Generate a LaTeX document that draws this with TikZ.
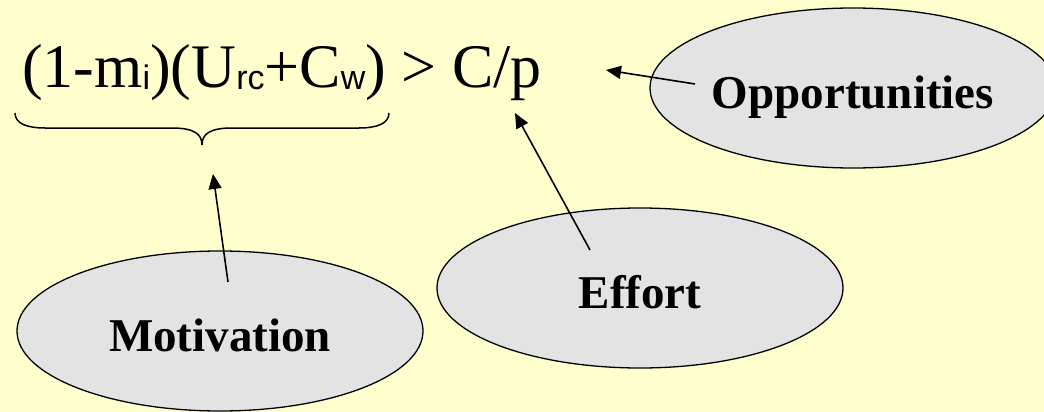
\documentclass[tikz,border=0pt]{standalone}
\usepackage{fontspec}
\setmainfont{Liberation Serif}
\newfontfamily\idxfont{Liberation Sans}
\usetikzlibrary{shapes.geometric, arrows.meta}

\definecolor{slidebg}{RGB}{255,255,206}
\definecolor{bubblegray}{RGB}{227,227,227}
\newcommand{\lowidx}[1]{\raisebox{-2pt}{\idxfont\fontsize{34}{38}\selectfont #1}}

\begin{document}
\begin{tikzpicture}[
    x=1pt, y=-1pt,
    bubble/.style={ellipse, draw, line width=1.3pt, fill=bubblegray,
                   minimum width=406pt, minimum height=160pt, inner sep=0pt,
                   text height=41pt, text depth=0pt,
                   font=\fontsize{47}{52}\selectfont\bfseries},
    ptr/.style={-{Triangle[length=15pt, width=13pt]}, line width=1.6pt},
    brace/.style={line width=1.5pt}
]

\useasboundingbox (0,0) rectangle (1044,412);
\fill[slidebg] (0,0) rectangle (1044,412);

\node[anchor=base west, inner sep=0pt, font=\fontsize{62}{70}\selectfont]
    (F) at (22,87) {(1-m\lowidx{i})(U\lowidx{rc}+C\lowidx{w}) > C/p};

\node[bubble] (M) at (220,331) {Motivation};
\node[bubble] (E) at (640,288) {Effort};
\node[bubble] (O) at (853,88)  {Opportunities};

% brace under the left-hand side
\draw[brace] (15,113) .. controls (15,124) and (28,128) .. (45,128)
    -- (172,128) .. controls (194,128) and (202,134) .. (202,145)
    .. controls (202,134) and (210,128) .. (232,128)
    -- (359,128) .. controls (376,128) and (389,124) .. (389,113);

\coordinate (Mfrom) at (228,282);
\coordinate (Mto)   at (213,174);
\coordinate (Efrom) at (590,250);
\coordinate (Eto)   at (515,113);
\coordinate (Ofrom) at (695,84);
\coordinate (Oto)   at (606,70);

\draw[ptr] (Mfrom) -- (Mto);
\draw[ptr] (Efrom) -- (Eto);
\draw[ptr] (Ofrom) -- (Oto);

\end{tikzpicture}
\end{document}
